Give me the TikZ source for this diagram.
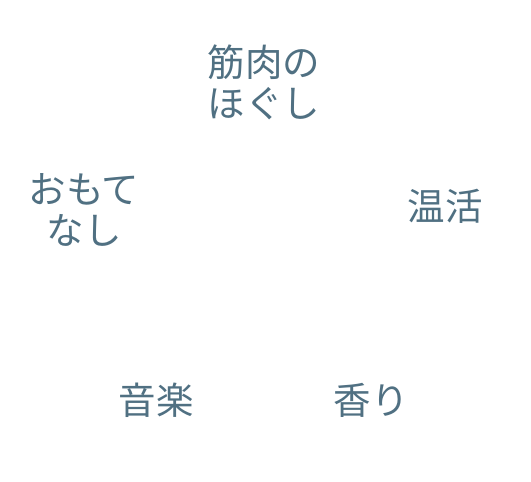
\documentclass[tikz,border=0pt]{standalone}
\usepackage{fontspec}
\newfontfamily\cjk{Noto Sans CJK JP}
\definecolor{labelc}{RGB}{80,112,130}
\tikzset{
  lbl/.style={text=labelc, font=\cjk\fontsize{37.5}{41}\selectfont, align=center, inner sep=0pt}
}
\begin{document}
\begin{tikzpicture}[x=1pt,y=-1pt]
\useasboundingbox (0,0) rectangle (531,482);
\node[lbl] (kin) at (264,82) {筋肉の\\ほぐし};
\node[lbl] (omo) at (84,210) {おもて\\なし};
\node[lbl] (onk) at (445,206) {温活};
\node[lbl] (ong) at (156,400) {音楽};
\node[lbl] (kao) at (371,400) {香り};
\end{tikzpicture}
\end{document}
